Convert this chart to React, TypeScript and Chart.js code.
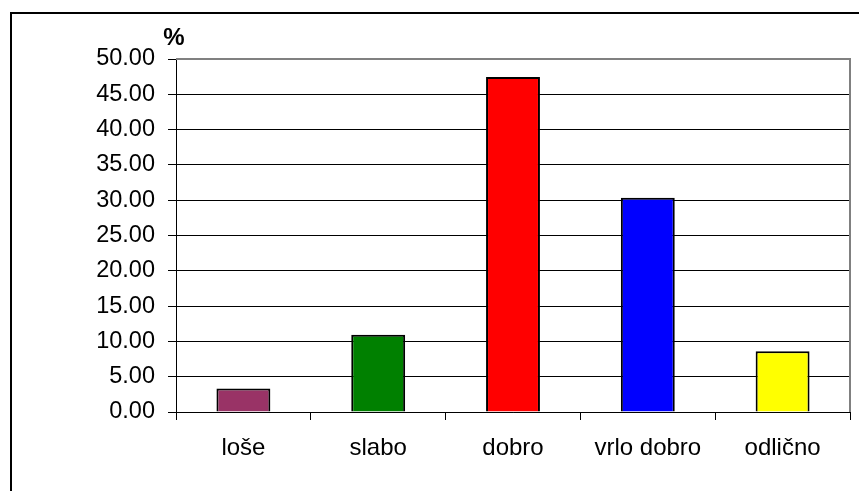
import React, { useEffect, useRef } from "react";
import { Chart, registerables } from "chart.js";

Chart.register(...registerables);

const categories = ["loše", "slabo", "dobro", "vrlo dobro", "odlično"];
const values = [3.33, 10.95, 47.45, 30.35, 8.6];
const barColors = ["#993366", "#008000", "#FF0000", "#0000FF", "#FFFF00"];
const yTickStep = 5;
const yMax = 50;
const unitLabel = "%";

const FONT = "Arial, 'Liberation Sans', sans-serif";

export default function App() {
  const ref = useRef<HTMLCanvasElement | null>(null);

  useEffect(() => {
    if (!ref.current) return;
    const framePlugin = {
      id: "framePlugin",
      afterDraw(chart: any) {
        const { ctx, chartArea } = chart;
        ctx.save();
        ctx.strokeStyle = "#808080";
        ctx.lineWidth = 2;
        ctx.beginPath();
        ctx.moveTo(chartArea.left, chartArea.top);
        ctx.lineTo(chartArea.right, chartArea.top);
        ctx.lineTo(chartArea.right, chartArea.bottom);
        ctx.stroke();
        ctx.fillStyle = "#000";
        ctx.font = `bold 24px ${FONT}`;
        ctx.textAlign = "center";
        ctx.textBaseline = "middle";
        ctx.fillText(unitLabel, chartArea.left - 2, 38);
        ctx.restore();
      },
    };
    const chart = new Chart(ref.current, {
      type: "bar",
      data: {
        labels: categories,
        datasets: [
          {
            data: values,
            backgroundColor: barColors,
            borderColor: "#000",
            borderWidth: 2,
            barPercentage: 0.4,
            categoryPercentage: 1,
          },
        ],
      },
      options: {
        responsive: false,
        animation: false,
        layout: { padding: { top: 59, right: 9, left: 0, bottom: 0 } },
        plugins: { legend: { display: false }, tooltip: { enabled: false } },
        scales: {
          x: {
            grid: {
              offset: true,
              drawOnChartArea: false,
              tickLength: 8,
              color: "#000",
            },
            border: { color: "#000", width: 1 },
            ticks: {
              color: "#000",
              padding: 14,
              font: { family: FONT, size: 24 },
              maxRotation: 0,
            },
            afterFit(scale: any) {
              scale.height = 79;
            },
          },
          y: {
            min: 0,
            max: yMax,
            ticks: {
              stepSize: yTickStep,
              color: "#000",
              padding: 13,
              font: { family: FONT, size: 23.5 },
              callback: (v: any) => Number(v).toFixed(2),
            },
            grid: { color: "#000", tickLength: 8, lineWidth: 1 },
            border: { color: "#000", width: 1 },
            afterFit(scale: any) {
              scale.width = 176;
            },
          },
        },
      },
      plugins: [framePlugin],
    });
    return () => chart.destroy();
  }, []);

  return (
    <div
      style={{
        position: "fixed",
        left: 0,
        top: 0,
        width: 859,
        height: 491,
        background: "#fff",
        overflow: "hidden",
      }}
    >
      <div
        style={{
          position: "absolute",
          left: 10,
          top: 12,
          width: 900,
          height: 600,
          borderLeft: "2px solid #000",
          borderTop: "2px solid #000",
          boxSizing: "border-box",
        }}
      />
      <canvas
        ref={ref}
        width={859}
        height={491}
        style={{ position: "absolute", left: 0, top: 0, width: 859, height: 491 }}
      />
    </div>
  );
}
